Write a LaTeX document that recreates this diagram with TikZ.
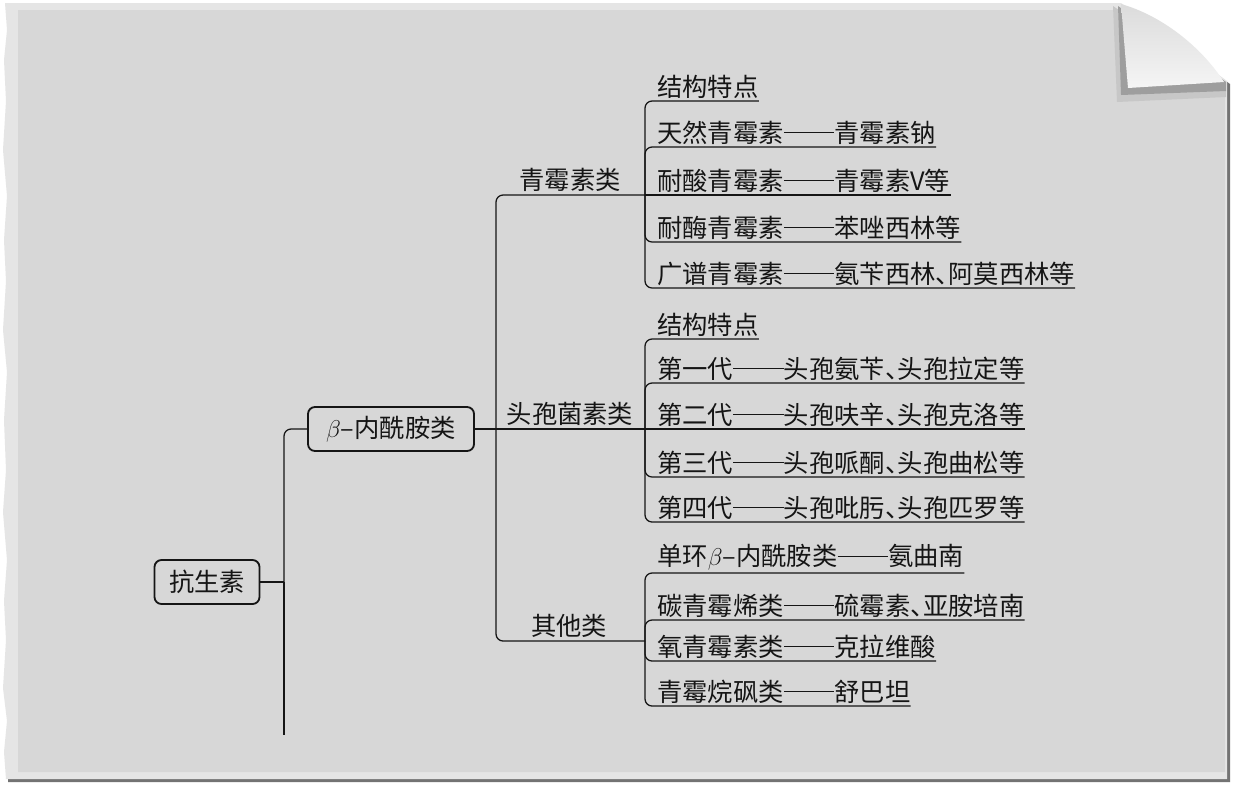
\documentclass[tikz,border=0pt]{standalone}
\usepackage{fontspec}
\setmainfont{Noto Sans CJK SC}
\definecolor{paper}{HTML}{D7D7D7}
\definecolor{paperedge}{HTML}{E5E5E5}
\definecolor{ink}{HTML}{151515}
\newcommand{\dunhao}{\makebox[0.5em][l]{、}}
\newcommand{\longdash}{\rule[0.36em]{2em}{0.7pt}}

\begin{document}
\begin{tikzpicture}[x=0.025cm,y=-0.025cm,font=\fontsize{18}{21}\selectfont]
	\tikzset{box/.style = {draw=ink, line width=1.3pt, rounded corners=5pt, minimum height=1.1cm, inner xsep=0pt, text=ink},
	         group/.style = {anchor=south, inner sep=2pt, text=ink},
	         leaf/.style = {anchor=south west, inner xsep=0pt, inner ysep=1.5pt, text=ink},
	         branch/.style = {draw=ink, line width=0.9pt, rounded corners=5pt}}

	%paper
	\fill[white] (0,0) rectangle (1233,785);
	\fill[black!55] (8,6) -- (1124,6) -- (1230,84) -- (1230,782) -- (8,782) -- cycle;
	\fill[paperedge] (5,3) -- (1121,3) -- (1227,81) -- (1227,779) -- (6,779) -- (4,752) -- (7,721) -- (3,688)
		-- (6,640) -- (4,601) -- (7,560) -- (3,512) -- (6,470) -- (4,420) -- (7,372) -- (3,330) -- (6,281)
		-- (4,240) -- (7,196) -- (3,150) -- (6,101) -- (4,60) -- (7,30) -- cycle;
	\fill[paper] (18,10) -- (1121,10) -- (1225,84) -- (1225,772) -- (18,772) -- cycle;

	%corner
	\fill[black!22] (1113,6) -- (1117,102) -- (1226,97) -- (1226,82) -- cycle;
	\fill[black!38] (1118,6) -- (1121,95) -- (1226,91) -- (1226,82) -- cycle;
	\shade[top color=black!14, bottom color=black!4] (1121,4) .. controls (1160,15) and (1200,45) .. (1224,82)
		-- (1128,88) -- cycle;

	\node[box, minimum width=2.625cm] (R) at (207,582) {抗生素};
	\node[box, minimum width=4.15cm] (B) at (391,429) {$\beta$–内酰胺类};

	\node[group] (G_1) at (570,195) {青霉素类};
	\node[group] (G_2) at (570,429) {头孢菌素类};
	\node[group] (G_3) at (569,641) {其他类};

	\node[leaf] (Q_1) at (657,101) {结构特点};
	\node[leaf] (Q_2) at (657,147) {天然青霉素\longdash 青霉素钠};
	\node[leaf] (Q_3) at (657,195) {耐酸青霉素\longdash 青霉素V等};
	\node[leaf] (Q_4) at (657,242) {耐酶青霉素\longdash 苯唑西林等};
	\node[leaf] (Q_5) at (657,288) {广谱青霉素\longdash 氨苄西林\dunhao 阿莫西林等};

	\node[leaf] (T_1) at (657,339) {结构特点};
	\node[leaf] (T_2) at (657,383) {第一代\longdash 头孢氨苄\dunhao 头孢拉定等};
	\node[leaf] (T_3) at (657,429) {第二代\longdash 头孢呋辛\dunhao 头孢克洛等};
	\node[leaf] (T_4) at (657,477) {第三代\longdash 头孢哌酮\dunhao 头孢曲松等};
	\node[leaf] (T_5) at (657,522) {第四代\longdash 头孢吡肟\dunhao 头孢匹罗等};

	\node[leaf] (O_1) at (657,573) {单环$\beta$–内酰胺类\longdash 氨曲南};
	\node[leaf] (O_2) at (657,620) {碳青霉烯类\longdash 硫霉素\dunhao 亚胺培南};
	\node[leaf] (O_3) at (657,661) {氧青霉素类\longdash 克拉维酸};
	\node[leaf] (O_4) at (657,706) {青霉烷砜类\longdash 舒巴坦};

	\coordinate (J_0) at (284,582);
	\coordinate (J_1) at (496,429);
	\coordinate (J_2) at (645,195);
	\coordinate (J_3) at (645,429);
	\coordinate (J_4) at (645,641);
	\coordinate (E_0) at (284,735);

	\draw[branch] (R.east)--(J_0);
	\draw[branch] (J_0) |- (B.west);
	\draw[branch] (J_0)--(E_0);
	\draw[branch] (B.east)--(J_3);
	\draw[branch] (J_1) |- (J_2);
	\draw[branch] (J_1) |- (J_4);

	%leaves
	\draw[branch] (J_2) |- (Q_1.south east);
	\draw[branch] (J_2) |- (Q_2.south east);
	\draw[branch] (J_2)--(Q_3.south east);
	\draw[branch] (J_2) |- (Q_4.south east);
	\draw[branch] (J_2) |- (Q_5.south east);

	\draw[branch] (J_3) |- (T_1.south east);
	\draw[branch] (J_3) |- (T_2.south east);
	\draw[branch] (J_3)--(T_3.south east);
	\draw[branch] (J_3) |- (T_4.south east);
	\draw[branch] (J_3) |- (T_5.south east);

	\draw[branch] (J_4) |- (O_1.south east);
	\draw[branch] (J_4) |- (O_2.south east);
	\draw[branch] (J_4) |- (O_3.south east);
	\draw[branch] (J_4) |- (O_4.south east);

\end{tikzpicture}
\end{document}
